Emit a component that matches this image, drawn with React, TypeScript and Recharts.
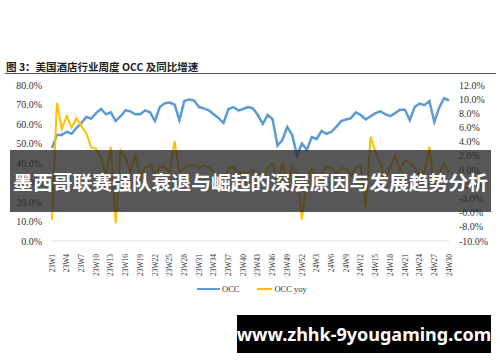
import { LineChart, Line, XAxis, YAxis } from "recharts";

// week labels (every 3rd shown on the axis)
const WEEKS = [
  "23W1", "23W2", "23W3", "23W4", "23W5", "23W6", "23W7", "23W8", "23W9", "23W10",
  "23W11", "23W12", "23W13", "23W14", "23W15", "23W16", "23W17", "23W18", "23W19", "23W20",
  "23W21", "23W22", "23W23", "23W24", "23W25", "23W26", "23W27", "23W28", "23W29", "23W30",
  "23W31", "23W32", "23W33", "23W34", "23W35", "23W36", "23W37", "23W38", "23W39", "23W40",
  "23W41", "23W42", "23W43", "23W44", "23W45", "23W46", "23W47", "23W48", "23W49", "23W50",
  "23W51", "23W52", "24W1", "24W2", "24W3", "24W4", "24W5", "24W6", "24W7", "24W8",
  "24W9", "24W10", "24W11", "24W12", "24W13", "24W14", "24W15", "24W16", "24W17", "24W18",
  "24W19", "24W20", "24W21", "24W22", "24W23", "24W24", "24W25", "24W26", "24W27", "24W28",
  "24W29", "24W30",
];

// OCC, %
const OCC = [
  47.7, 54.4, 54.4, 56, 55, 58, 60.5, 63.6, 62.8, 65.6,
  67.7, 65, 66, 61.5, 64, 67, 66.5, 65, 65, 67,
  66, 61.5, 68.7, 70.6, 71, 70, 62, 71.8, 72.6, 72,
  68.7, 68, 67, 65, 63, 60.5, 67.7, 68.7, 67, 67.7,
  68.7, 68, 64.6, 60, 64.6, 62.5, 49, 51.8, 58.5, 54.4,
  44, 50, 46.7, 53.3, 52.3, 56.4, 55, 56, 58.5, 61.5,
  62.3, 63, 66, 64.6, 62.3, 64, 65.6, 66.5, 65, 64,
  65.6, 67.3, 67.3, 62, 68.7, 70.5, 69.7, 71.8, 61, 68.4,
  73.3, 72,
];

// OCC yoy, %
const OCC_YOY = [
  -7.0, 9.5, 5.8, 7.6, 6.0, 7.3, 6.2, 5.2, 3.2, 3.0,
  1.8, -0.8, 3.3, -7.5, 2.8, 1.8, -0.3, 2.0, -1.0, 0.4,
  0.7, -0.5, 0.4, 0.5, -0.4, 4.1, -0.3, 0.3, 0.7, 0.7,
  0.3, 0.6, 0.4, -0.3, -1.0, -1.8, 0.3, 0.4, -0.4, -0.3,
  -0.4, 0, -1.8, -1.1, 0.3, 1.0, -1.8, 1.0, -1.7, 0.4,
  -0.5, -7.0, -1.0, 0.3, -1.5, -0.5, 0.5, 0.3, -0.5, 0.3,
  0.2, -0.8, 0.4, 0.7, -5.3, 4.7, 2.6, 1.0, -1.4, 0.5,
  2.1, 0, 1.4, 1.0, 0.3, -0.7, -0.2, 3.3, -2.8, -0.5,
  1.0, -0.3,
];

const LEFT_TICKS = [0, 10, 20, 30, 40, 50, 60, 70, 80];
const RIGHT_TICKS = [-10, -8, -6, -4, -2, 0, 2, 4, 6, 8, 10, 12];

const data = WEEKS.map((week, i) => ({ week, occ: OCC[i], yoy: OCC_YOY[i] }));

const SERIF = "'Liberation Serif', 'Times New Roman', serif";
const BLUE = "#5B9BD5";
const YELLOW = "#FFC000";

const pct = (v: number) => `${v.toFixed(1)}%`;

function WeekTick({ x = 0, y = 0, payload }: { x?: number; y?: number; payload?: { value: string } }) {
  return (
    <text
      transform={`translate(${x},${y + 5}) rotate(-90)`}
      textAnchor="end"
      dy="0.35em"
      fontSize={7.5}
      fontFamily={SERIF}
      fill="#333"
    >
      {payload?.value}
    </text>
  );
}

export default function App() {
  return (
    <div
      style={{
        position: "absolute",
        left: 0,
        top: 0,
        width: 500,
        height: 362,
        background: "#fff",
        overflow: "hidden",
      }}
    >
      <div
        style={{
          position: "absolute",
          left: 6,
          top: 59,
          fontSize: 10.5,
          fontWeight: 700,
          fontFamily: "'Noto Sans CJK SC', sans-serif",
          color: "#222",
          whiteSpace: "nowrap",
        }}
      >
        图 3：美国酒店行业周度 OCC 及同比增速
      </div>
      <div
        style={{ position: "absolute", left: 5, top: 73, width: 491, height: 1, background: "#555" }}
      />

      <div style={{ position: "absolute", left: 0, top: 0 }}>
        <LineChart
          width={500}
          height={362}
          data={data}
          margin={{ top: 85, right: 6, bottom: 81, left: 12 }}
        >
          <XAxis
            dataKey="week"
            interval={2}
            tick={<WeekTick />}
            tickLine={false}
            axisLine={{ stroke: "#d9d9d9" }}
            height={40}
          />
          <YAxis
            yAxisId="left"
            domain={[0, 80]}
            ticks={LEFT_TICKS}
            interval={0}
            tickFormatter={pct}
            width={40}
            axisLine={false}
            tickLine={false}
            tickMargin={4}
            tick={{ fontSize: 10, fontFamily: SERIF, fill: "#333" }}
          />
          <YAxis
            yAxisId="right"
            orientation="right"
            domain={[-10, 12]}
            ticks={RIGHT_TICKS}
            interval={0}
            tickFormatter={pct}
            width={45}
            axisLine={false}
            tickLine={false}
            tickMargin={4}
            tick={{ fontSize: 10, fontFamily: SERIF, fill: "#333", textAnchor: "start" }}
          />
          <Line
            yAxisId="left"
            dataKey="occ"
            stroke={BLUE}
            strokeWidth={2.5}
            dot={false}
            isAnimationActive={false}
          />
          <Line
            yAxisId="right"
            dataKey="yoy"
            stroke={YELLOW}
            strokeWidth={2}
            dot={false}
            isAnimationActive={false}
          />
        </LineChart>
      </div>

      {/* legend */}
      <div
        style={{
          position: "absolute",
          left: 197,
          top: 284,
          display: "flex",
          alignItems: "center",
          fontFamily: SERIF,
          fontSize: 8.5,
          color: "#333",
        }}
      >
        <span style={{ width: 23, height: 2, background: BLUE, display: "inline-block" }} />
        <span style={{ marginLeft: 2 }}>OCC</span>
        <span style={{ width: 15, height: 2, background: YELLOW, display: "inline-block", marginLeft: 18 }} />
        <span style={{ marginLeft: 2 }}>OCC yoy</span>
      </div>

      {/* overlay banner */}
      <div
        style={{
          position: "absolute",
          left: 10,
          top: 150,
          width: 481,
          height: 62,
          background: "rgba(40,40,40,0.78)",
          color: "#fff",
          fontFamily: "'Noto Sans CJK SC', sans-serif",
          fontWeight: 700,
          fontSize: 19.8,
          display: "flex",
          alignItems: "center",
          justifyContent: "center",
          whiteSpace: "nowrap",
        }}
      >
        墨西哥联赛强队衰退与崛起的深层原因与发展趋势分析
      </div>

      {/* watermark */}
      <div
        style={{
          position: "absolute",
          left: 237,
          top: 315,
          width: 254,
          height: 38,
          background: "#000",
          color: "#fff",
          fontFamily: "'Noto Sans', 'DejaVu Sans', sans-serif",
          fontWeight: 700,
          fontSize: 18,
          display: "flex",
          alignItems: "center",
          justifyContent: "center",
          whiteSpace: "nowrap",
        }}
      >
        www.zhhk-9yougaming.com
      </div>
    </div>
  );
}
